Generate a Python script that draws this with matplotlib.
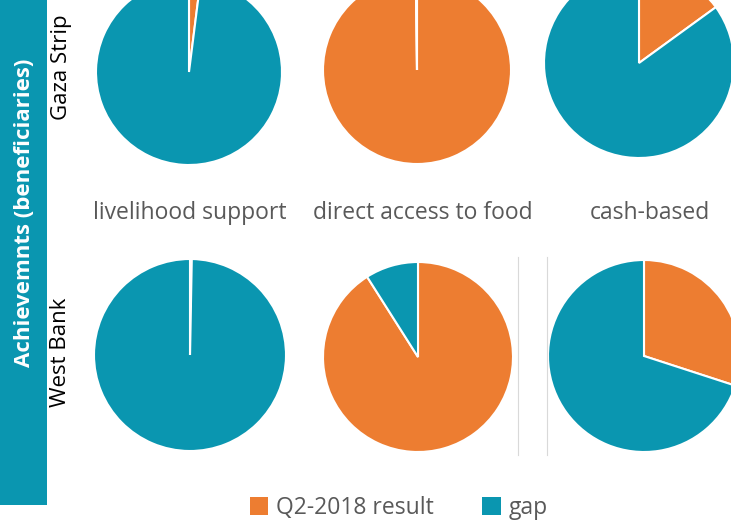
import matplotlib
matplotlib.use("Agg")
import matplotlib.pyplot as plt
from matplotlib.patches import Rectangle, Patch
from matplotlib.lines import Line2D

plt.rcParams['font.family'] = ['Open Sans', 'DejaVu Sans']

# ---- data ----
categories = ["livelihood support", "direct access to food", "cash-based"]
regions = ["Gaza Strip", "West Bank"]
series_names = ["Q2-2018 result", "gap"]
# share (%) of result vs gap per region x category
gaza_result = [2.0, 99.8, 15.0]
gaza_gap = [98.0, 0.2, 85.0]
wb_result = [0.3, 91.0, 30.0]
wb_gap = [99.7, 9.0, 70.0]
title_text = "Achievemnts (beneficiaries)"

ORANGE = "#ED7D31"
TEAL = "#0A96B0"
GREY_TXT = "#595959"

W, H = 731, 520
fig = plt.figure(figsize=(W / 100, H / 100), dpi=100)

def fx(x):
    return x / W

def fy(y):
    return 1 - y / H

# left band
fig.add_artist(Rectangle((0, fy(505)), fx(47), 505 / H, transform=fig.transFigure,
                         facecolor=TEAL, edgecolor="none", zorder=0))
fig.text(fx(25), fy(213), title_text, rotation=90, color="white", fontsize=16,
         fontweight="bold", ha="center", va="center")

# row labels
fig.text(fx(61), fy(67), regions[0], rotation=90, color="black", fontsize=16,
         ha="center", va="center")
fig.text(fx(61), fy(352), regions[1], rotation=90, color="black", fontsize=16,
         ha="center", va="center")

# pie layout (pixel centers, radius)
layout = [
    [(189, 72, 93), (417, 70, 94), (639, 63, 95)],
    [(190, 355, 96), (418, 357, 95), (644, 356, 96)],
]
rows = [(gaza_result, gaza_gap), (wb_result, wb_gap)]

for (res, gap), row_layout in zip(rows, layout):
    for i, (cx, cy, r) in enumerate(row_layout):
        ax = fig.add_axes([fx(cx - r), fy(cy + r), 2 * r / W, 2 * r / H])
        ax.pie([res[i], gap[i]], colors=[ORANGE, TEAL], startangle=90,
               counterclock=False, radius=1,
               wedgeprops=dict(edgecolor="white", linewidth=1.5))
        ax.set_xlim(-1, 1)
        ax.set_ylim(-1, 1)
        ax.set_aspect("auto")
        ax.axis("off")

# category labels
for x, lab in zip([190, 423, 650], categories):
    fig.text(fx(x), fy(213), lab, color=GREY_TXT, fontsize=16.5, ha="center", va="center")

# thin separator lines
for x in [518, 547]:
    fig.add_artist(Line2D([fx(x), fx(x)], [fy(257), fy(455)], transform=fig.transFigure,
                          color="#d9d9d9", linewidth=0.8))

# legend
handles = [Patch(facecolor=ORANGE, edgecolor="none"), Patch(facecolor=TEAL, edgecolor="none")]
leg = fig.legend(handles, series_names, loc="center", bbox_to_anchor=(fx(399), fy(508)),
                 ncol=2, frameon=False, fontsize=16.5, handlelength=0.8, handleheight=0.8,
                 handletextpad=0.35, columnspacing=2.1, labelcolor=GREY_TXT,
                 borderpad=0, borderaxespad=0)

fig.savefig("out.png", dpi=100)
